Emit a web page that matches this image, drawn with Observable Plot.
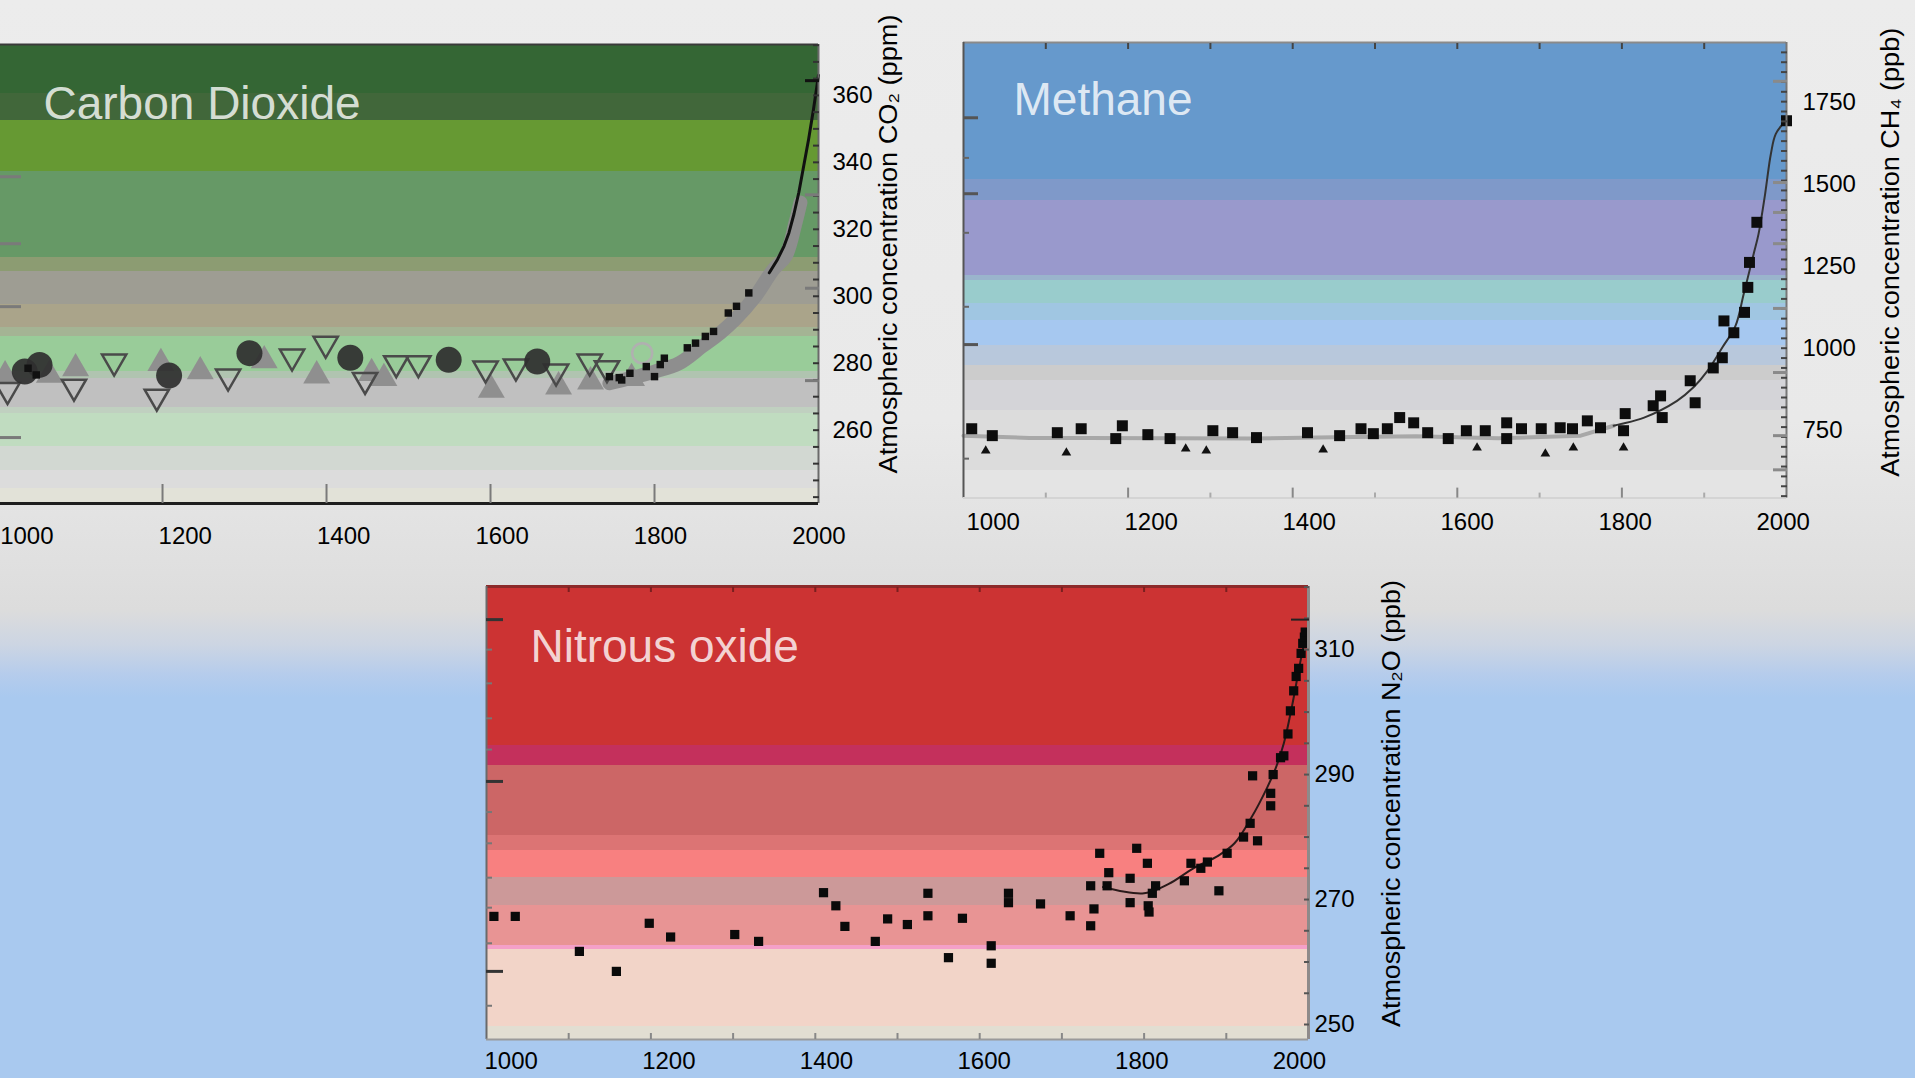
<!DOCTYPE html>
<html><head><meta charset="utf-8">
<script src="https://cdn.jsdelivr.net/npm/d3@7"></script>
<script src="https://cdn.jsdelivr.net/npm/@observablehq/plot@0.6"></script>
<style>
html,body{margin:0;padding:0;background:#a9c9ef;}
#page{position:relative;width:1915px;height:1078px;overflow:hidden;
background:linear-gradient(to bottom,#ececec 0px,#e9e9e9 420px,#e0e0e0 560px,#dcdcdc 610px,#ccd5e3 645px,#b5ccec 675px,#a9c9ef 697px,#a9c9ef 1078px);}
.panel{position:absolute;}
.panel svg{overflow:visible;}
</style></head><body><div id="page"></div>
<script>
// ---------- shared tick values ----------
const xTickLabels = [1000, 1200, 1400, 1600, 1800, 2000];
const xMajorInner = [1200, 1400, 1600, 1800];
const xCenturies = [1100, 1200, 1300, 1400, 1500, 1600, 1700, 1800, 1900];
const xOddCenturies = [1100, 1300, 1500, 1700, 1900];

// ---------- Carbon dioxide (ppm) ----------
const co2Title = "Carbon Dioxide";
const co2AxisLabel = "Atmospheric concentration CO\u2082 (ppm)";
const co2YTicks = [260, 280, 300, 320, 340, 360];
const co2LongRightTicks = [330.3, 302.4, 274.8];
const co2TopRightTick = [364.4];
const co2LeftTicks = [335.7, 315.7, 296.9, 257.8];
const co2CircleYear = [1032, 1050, 1208, 1306, 1429, 1549, 1657];
const co2CirclePpm  = [277.5, 279.5, 276.3, 283, 281.6, 281, 280.5];
const co2DownYear = [1011, 1092, 1141, 1193, 1280, 1358, 1399, 1447, 1485, 1512, 1594, 1631, 1680, 1721, 1742];
const co2DownPpm  = [272, 273, 280.5, 270, 276, 282, 285.8, 275, 280, 280, 278.4, 279, 277.5, 280.5, 278.5];
const co2UpYear = [1008, 1062, 1094, 1198, 1246, 1324, 1388, 1455, 1470, 1601, 1683, 1722, 1772];
const co2UpPpm  = [276.3, 276.5, 278.4, 280, 277.5, 280.8, 276.3, 277, 275.5, 272, 273, 274.5, 275.5];
const co2OpenYear = [1785];
const co2OpenPpm = [283];
const co2SmallYear = [1036, 1046, 1745, 1757, 1760, 1770, 1790, 1800, 1807, 1812, 1840, 1850, 1862, 1872, 1890, 1900, 1915];
const co2SmallPpm  = [278.5, 276.5, 276, 275.7, 275, 277, 279, 276, 279.6, 281.5, 284.6, 286, 288, 289.5, 295, 297, 301];
const co2SmoothYear = [1745, 1770, 1800, 1830, 1858, 1880, 1898, 1923, 1945, 1960, 1972, 1978];
const co2SmoothPpm  = [274, 275.5, 277.5, 280, 285, 289, 293, 300, 308, 312, 322, 328];
const co2LineYear = [1940, 1950, 1958, 1964, 1970, 1976, 1982, 1988, 1994, 2000];
const co2LinePpm  = [307, 311, 315, 319, 324.5, 331, 339, 347, 356, 366];
const co2BandEdges = [375.2, 360.5, 352.4, 337.2, 311.5, 307.3, 297.5, 290.6, 287.9, 277.5, 275.4, 266.7, 265.0, 255.1, 248.0, 242.5, 238.1];
const co2BandColors = ["#346634", "#41673a", "#669933", "#669966", "#8c9c72", "#9e9d93", "#aaa48a", "#a4b494", "#99cc99", "#b0c4b0", "#c0c0c0", "#c0d0c0", "#c0dcc0", "#d2d8d2", "#dcdcdc", "#e2e2d8"];

// ---------- Methane (ppb) ----------
const ch4Title = "Methane";
const ch4AxisLabel = "Atmospheric concentration CH\u2084 (ppb)";
const ch4YTicks = [750, 1000, 1250, 1500, 1750];
const ch4LongRightTicks = [1813, 1505, 1414, 1319, 1122, 927, 735, 631];
const ch4LeftLong = [1702, 1471, 1012];
const ch4LeftShort = [1580, 1352, 1127, 665];
const ch4SqYear = [1010, 1035, 1114, 1143, 1185, 1193, 1224, 1251, 1303, 1327, 1356, 1418, 1457, 1483, 1498, 1515, 1530, 1547, 1564, 1589, 1611, 1634, 1660, 1660, 1678, 1702, 1725, 1740, 1758, 1774, 1802, 1804, 1838, 1847, 1849, 1883, 1889, 1911, 1922, 1924, 1936, 1949, 1953, 1955, 1964, 2000];
const ch4SqPpb  = [756, 735, 744, 756, 726, 765, 738, 726, 750, 744, 729, 744, 735, 756, 741, 756, 790, 774, 744, 726, 750, 750, 774, 726, 756, 756, 759, 756, 780, 759, 750, 802, 826, 856, 790, 902, 835, 941, 972, 1084, 1048, 1110, 1186, 1262, 1384, 1693];
const ch4TriYear = [1027, 1125, 1270, 1295, 1437, 1624, 1707, 1741, 1802];
const ch4TriPpb  = [689, 683, 695, 689, 692, 698, 680, 698, 698];
const ch4FlatYear = [1000, 1080, 1150, 1250, 1350, 1450, 1550, 1650, 1750, 1790];
const ch4FlatPpb  = [735, 728, 728, 727, 726, 730, 733, 727, 735, 765];
const ch4RiseYear = [1790, 1798, 1827, 1867, 1887, 1904, 1922, 1938, 1948, 1960, 1966, 1974, 1981, 1987, 1999];
const ch4RisePpb  = [765, 770, 790, 841, 882, 932, 1003, 1069, 1166, 1287, 1348, 1470, 1592, 1653, 1693];
const ch4BandEdges = [1931, 1513.6, 1449.7, 1221.6, 1206.3, 1136.4, 1084.6, 1008.6, 947.7, 902.1, 810.8, 628.3, 545];
const ch4BandColors = ["#6699cc", "#7f99c9", "#9999cc", "#9ab4cc", "#99cccc", "#a0c6e2", "#a6c8f0", "#b8c8dc", "#cccccc", "#d4d4d8", "#dcdcdc", "#e4e4e4"];

// ---------- Nitrous oxide (ppb) ----------
const n2oTitle = "Nitrous oxide";
const n2oAxisLabel = "Atmospheric concentration N\u2082O (ppb)";
const n2oYTicks = [250, 270, 290, 310];
const n2oLeftLong = [314.8, 288.9, 258.5];
const n2oLeftShort = [310, 304.6, 299, 294, 284, 279, 273.5, 268.7, 263, 253];
const n2oYear = [1009, 1035, 1113, 1158, 1198, 1224, 1302, 1331, 1410, 1425, 1436, 1473, 1488, 1512, 1537, 1537, 1562, 1579, 1614, 1614, 1635, 1635, 1674, 1710, 1735, 1739, 1735, 1746, 1755, 1757, 1783, 1783, 1791, 1804, 1805, 1806, 1810, 1814, 1849, 1857, 1869, 1877, 1891, 1901, 1921, 1929, 1932, 1938, 1954, 1954, 1957, 1966, 1970, 1975, 1978, 1982, 1985, 1988, 1991, 1993, 1995, 1996];
const n2oPpb  = [267.3, 267.3, 261.7, 258.5, 266.2, 264, 264.4, 263.3, 271.1, 269, 265.7, 263.3, 266.9, 266, 271, 267.4, 260.7, 267, 262.6, 259.8, 271, 269.5, 269.3, 267.4, 265.8, 268.5, 272.2, 277.4, 272.2, 274.3, 269.5, 273.4, 278.2, 275.8, 269, 268, 271, 272.2, 273, 275.8, 275, 276, 271.4, 277.4, 280, 282.2, 289.8, 279.4, 287, 285, 290, 292.7, 293, 296.5, 300.2, 303.4, 305.7, 307, 309.4, 311, 312, 312.8];
const n2oLineYear = [1750, 1800, 1830, 1860, 1890, 1910, 1930, 1950, 1960, 1970, 1980, 1990, 1998];
const n2oLinePpb  = [272, 271, 272.5, 275, 277, 279, 283, 288, 291, 295, 301, 308, 313];
const n2oBandEdges = [320.1, 294.64, 291.44, 280.24, 277.84, 273.52, 269.04, 262.64, 262.0, 249.68, 247.6];
const n2oBandColors = ["#cc3333", "#c4305c", "#cc6666", "#dc7474", "#f88080", "#cc9999", "#e89494", "#f4a0c8", "#f2d4c8", "#e2ded2"];

// ---------- helpers ----------
const zip = (xs, ys) => xs.map((x, i) => ({x, y: ys[i]}));
const bands = (edges, colors) => colors.map((c, i) => ({y1: edges[i], y2: edges[i + 1], c}));
const FONT = "Liberation Sans, Arial, Helvetica, sans-serif";
const plain = d => String(d);
const blank = () => "";

function commonText(labelPos, labelDy, title, tdx, tdy, axisLabel, adx, ady) {
  return [
    Plot.text(xTickLabels, {x: labelPos, frameAnchor: "bottom", dy: labelDy, text: plain, fontSize: 24, fill: "#000", lineAnchor: "middle"}),
    Plot.text([title], {frameAnchor: "top-left", dx: tdx, dy: tdy, lineAnchor: "bottom", textAnchor: "start", fontSize: 46, fill: "#ffffff", fillOpacity: 0.8, text: d => d}),
    Plot.text([axisLabel], {frameAnchor: "right", rotate: -90, dx: adx, dy: ady, textAnchor: "middle", lineAnchor: "middle", fontSize: 25, fill: "#000", text: d => d})
  ];
}

function mount(svg, left, top, labelLen) {
  const div = document.createElement("div");
  div.className = "panel";
  div.style.left = left + "px";
  div.style.top = top + "px";
  div.appendChild(svg);
  document.getElementById("page").appendChild(div);
  d3.select(svg).selectAll("text").each(function () {
    if (this.textContent.startsWith("Atmospheric")) {
      this.setAttribute("textLength", labelLen);
      this.setAttribute("lengthAdjust", "spacingAndGlyphs");
    }
  });
}

// ---------- CO2 panel ----------
const co2Plot = Plot.plot({
  width: 940, height: 570,
  marginLeft: 15, marginRight: 102, marginTop: 44, marginBottom: 67,
  x: {domain: [996.3, 2000], label: null},
  y: {domain: [238.1, 375.2], label: null},
  style: {fontFamily: FONT, fontSize: "24px", background: "transparent", color: "#000"},
  marks: [
    Plot.rect(bands(co2BandEdges, co2BandColors), {y1: "y1", y2: "y2", fill: "c", shapeRendering: "crispEdges"}),
    Plot.line(zip(co2SmoothYear, co2SmoothPpm), {x: "x", y: "y", stroke: "#8e8e8e", strokeWidth: 14, curve: "catmull-rom"}),
    Plot.dot(zip(co2UpYear, co2UpPpm), {x: "x", y: "y", symbol: "triangle", r: 10, fill: "#8f8f8f"}),
    Plot.dot(zip(co2DownYear, co2DownPpm), {x: "x", y: "y", symbol: "triangle", rotate: 180, r: 9, fill: "none", stroke: "#4a4a4a", strokeWidth: 2.5}),
    Plot.dot(zip(co2CircleYear, co2CirclePpm), {x: "x", y: "y", r: 13, fill: "#2f2f2f", fillOpacity: 0.92}),
    Plot.dot(zip(co2OpenYear, co2OpenPpm), {x: "x", y: "y", r: 10, fill: "none", stroke: "#b0b0b0", strokeWidth: 2.5}),
    Plot.dot(zip(co2SmallYear, co2SmallPpm), {x: "x", y: "y", symbol: "square", r: 4.2, fill: "#111"}),
    Plot.line(zip(co2LineYear, co2LinePpm), {x: "x", y: "y", stroke: "#111", strokeWidth: 3}),
    Plot.ruleY([375.2], {stroke: "#3a3a3a", strokeWidth: 2}),
    Plot.ruleX([2000], {stroke: "#6a6a6a", strokeWidth: 2}),
    Plot.ruleY([238.1], {stroke: "#1e1e1e", strokeWidth: 3}),
    Plot.axisX({ticks: xMajorInner, tickSize: -19, tickFormat: blank, stroke: "#7a7a7a", strokeWidth: 2, label: null}),
    Plot.axisY({anchor: "right", ticks: d3.range(240, 376, 5), tickSize: -6, tickFormat: blank, stroke: "#333", strokeWidth: 2, label: null}),
    Plot.axisY({anchor: "right", ticks: co2LongRightTicks, tickSize: -14, tickFormat: blank, stroke: "#7a7a7a", strokeWidth: 3, label: null}),
    Plot.axisY({anchor: "right", ticks: co2TopRightTick, tickSize: -14, tickFormat: blank, stroke: "#111", strokeWidth: 3, label: null}),
    Plot.axisY({anchor: "left", ticks: co2LeftTicks, tickSize: -26, tickFormat: blank, stroke: "#7a7a7a", strokeWidth: 3, label: null}),
    Plot.axisY({anchor: "right", ticks: co2YTicks, tickSize: 0, tickPadding: 14, tickFormat: plain, fontSize: 24, label: null}),
    ...commonText(d => d + (2000 - d) * 0.034 + 0.5, 33, co2Title, 48, 74, co2AxisLabel, 70, -30)
  ]
});
mount(co2Plot, -20, 0, 459);

// ---------- CH4 panel ----------
const ch4Plot = Plot.plot({
  width: 1015, height: 560,
  marginLeft: 63, marginRight: 129, marginTop: 42, marginBottom: 62.4,
  x: {domain: [1000, 2000], label: null},
  y: {domain: [545, 1931], label: null},
  style: {fontFamily: FONT, fontSize: "24px", background: "transparent", color: "#000"},
  marks: [
    Plot.rect(bands(ch4BandEdges, ch4BandColors), {y1: "y1", y2: "y2", fill: "c", shapeRendering: "crispEdges"}),
    Plot.line(zip(ch4FlatYear, ch4FlatPpb), {x: "x", y: "y", stroke: "#a8a8a8", strokeWidth: 4}),
    Plot.line(zip(ch4RiseYear, ch4RisePpb), {x: "x", y: "y", stroke: "#333", strokeWidth: 2, curve: "catmull-rom"}),
    Plot.dot(zip(ch4TriYear, ch4TriPpb), {x: "x", y: "y", symbol: "triangle", r: 3.6, fill: "#111"}),
    Plot.dot(zip(ch4SqYear, ch4SqPpb), {x: "x", y: "y", symbol: "square", r: 6.2, fill: "#0d0d0d"}),
    Plot.ruleY([1931], {stroke: "#8a8a8a", strokeWidth: 2}),
    Plot.ruleX([1000], {stroke: "#555", strokeWidth: 2}),
    Plot.ruleX([2000], {stroke: "#777", strokeWidth: 2}),
    Plot.ruleY([545], {stroke: "#d4d4d4", strokeWidth: 2}),
    Plot.axisX({anchor: "top", ticks: xCenturies, tickSize: -6, tickFormat: blank, stroke: "#444", strokeWidth: 2, label: null}),
    Plot.axisX({anchor: "bottom", ticks: xMajorInner, tickSize: -10, tickFormat: blank, stroke: "#888", strokeWidth: 2, label: null}),
    Plot.axisX({anchor: "bottom", ticks: xOddCenturies, tickSize: -5, tickFormat: blank, stroke: "#aaa", strokeWidth: 2, label: null}),
    Plot.axisY({anchor: "right", ticks: d3.range(1901, 550, -30), tickSize: -6, tickFormat: blank, stroke: "#444", strokeWidth: 2, label: null}),
    Plot.axisY({anchor: "right", ticks: ch4LongRightTicks, tickSize: -14, tickFormat: blank, stroke: "#8a8a8a", strokeWidth: 3, label: null}),
    Plot.axisY({anchor: "left", ticks: ch4LeftLong, tickSize: -15, tickFormat: blank, stroke: "#555", strokeWidth: 3, label: null}),
    Plot.axisY({anchor: "left", ticks: ch4LeftShort, tickSize: -6, tickFormat: blank, stroke: "#666", strokeWidth: 2, label: null}),
    Plot.axisY({anchor: "right", ticks: ch4YTicks, tickSize: 0, tickPadding: 16, tickFormat: plain, fontSize: 24, label: null}),
    ...commonText(d => d + (2000 - d) * 0.04 - 4, 24.5, ch4Title, 50, 72, ch4AxisLabel, 104, -18)
  ]
});
mount(ch4Plot, 900, 0, 449);

// ---------- N2O panel ----------
const n2oPlot = Plot.plot({
  width: 1000, height: 518,
  marginLeft: 46, marginRight: 132, marginTop: 26, marginBottom: 39,
  x: {domain: [1000, 2000], label: null},
  y: {domain: [247.6, 320.1], label: null},
  style: {fontFamily: FONT, fontSize: "24px", background: "transparent", color: "#000"},
  marks: [
    Plot.rect(bands(n2oBandEdges, n2oBandColors), {y1: "y1", y2: "y2", fill: "c", shapeRendering: "crispEdges"}),
    Plot.line(zip(n2oLineYear, n2oLinePpb), {x: "x", y: "y", stroke: "#2a1a1a", strokeWidth: 2, curve: "catmull-rom"}),
    Plot.dot(zip(n2oYear, n2oPpb), {x: "x", y: "y", symbol: "square", r: 5.2, fill: "#0a0a0a"}),
    Plot.ruleY([320.1], {stroke: "#8c2a2a", strokeWidth: 3}),
    Plot.ruleX([1000], {stroke: "#6a6a6a", strokeWidth: 2}),
    Plot.ruleX([2000], {stroke: "#8e8a8a", strokeWidth: 3}),
    Plot.ruleY([247.6], {stroke: "#9a9a9a", strokeWidth: 2}),
    Plot.axisX({anchor: "top", ticks: xCenturies, tickSize: -5, tickFormat: blank, stroke: "#7a1f1f", strokeWidth: 2, label: null}),
    Plot.axisX({anchor: "bottom", ticks: xCenturies, tickSize: -6, tickFormat: blank, stroke: "#888", strokeWidth: 2, label: null}),
    Plot.axisY({anchor: "right", ticks: d3.range(250, 321, 5), tickSize: -5, tickFormat: blank, stroke: "#555", strokeWidth: 2, label: null}),
    Plot.axisY({anchor: "right", ticks: [314.8], tickSize: -18, tickFormat: blank, stroke: "#222", strokeWidth: 2, label: null}),
    Plot.axisY({anchor: "left", ticks: n2oLeftLong, tickSize: -17, tickFormat: blank, stroke: "#333", strokeWidth: 3, label: null}),
    Plot.axisY({anchor: "left", ticks: n2oLeftShort, tickSize: -6, tickFormat: blank, stroke: "#777", strokeWidth: 2, label: null}),
    Plot.axisY({anchor: "right", ticks: n2oYTicks, tickSize: 0, tickPadding: 6, tickFormat: plain, fontSize: 24, label: null}),
    ...commonText(d => d + (2000 - d) * 0.041 - 11, 22, n2oTitle, 44, 75, n2oAxisLabel, 83, -9.5)
  ]
});
mount(n2oPlot, 440, 560, 447);
</script></body></html>
